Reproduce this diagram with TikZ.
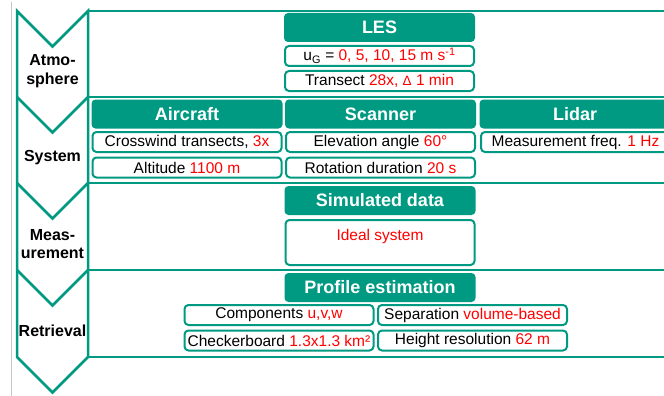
\documentclass[tikz,border=0pt]{standalone}
\usepackage{fontspec}
\setmainfont{Liberation Sans}
\usepackage{tikz}
\definecolor{tealgreen}{RGB}{0,154,130}
\newcommand\rd[1]{\textcolor{red}{#1}}
\newcommand\smalldelta{{\fontsize{13.5}{13.5}\selectfont Δ}}
\begin{document}
\begin{tikzpicture}[x=1pt,y=-1pt,
  strip/.style={draw=tealgreen,line width=2.5pt,line join=miter},
  hdr/.style={fill=tealgreen,rounded corners=4pt,text=white,inner sep=0pt,
    font=\fontsize{18}{20}\selectfont\bfseries,minimum width=191pt,minimum height=29pt},
  itm/.style={draw=tealgreen,line width=2pt,rounded corners=4pt,fill=white,inner sep=0pt,
    font=\fontsize{15.5}{18}\selectfont,minimum width=189pt,minimum height=20pt},
  phase/.style={align=center,inner sep=0pt,font=\fontsize{16}{18.5}\selectfont\bfseries}]
\clip (0,0) rectangle (664,396);
\fill [white] (0,0) rectangle (664,396);
\draw [black!22,line width=1pt] (11,2) -- (11,396);
% chevron strip
\draw [strip] (17,11) -- (52.5,46.5) -- (88,11) -- (88,357) -- (52.5,392.5) -- (17,357) -- cycle;
\foreach \y in {97,183,270}
  \draw [strip] (17,\y) -- (52.5,\y+35.5) -- (88,\y);
\foreach \y in {11,97,183,270,357}
  \draw [strip] (88,\y) -- (670,\y);
\node [phase] (atm) at (52.5,71) {Atmo-\\sphere};
\node [phase] (sys) at (52.5,158) {System};
\node [phase] (meas) at (52.5,244) {Meas-\\urement};
\node [phase] (ret) at (52.5,331) {Retrieval};
% atmosphere
\node [hdr] (les) at (379.5,27.5) {LES};
\node [itm] (ug) at (379.5,56) {u\textsubscript{G} = \rd{0, 5, 10, 15 m s\textsuperscript{-1}}};
\node [itm] (trans) at (379.5,81) {Transect \rd{28x, \smalldelta\ 1 min}};
% system
\node [hdr] (air) at (187,114) {Aircraft};
\node [hdr] (scan) at (380.5,114) {Scanner};
\node [hdr] (lid) at (575,114) {Lidar};
\node [itm] (cross) at (187,142) {Crosswind transects, \rd{3x}};
\node [itm] (alt) at (187,167.5) {Altitude \rd{1100 m}};
\node [itm] (elev) at (380.5,142) {Elevation angle \rd{60°}};
\node [itm] (rot) at (380.5,167.5) {Rotation duration \rd{20 s}};
\node [itm] (freq) at (575.5,142) {Measurement freq. \rd{1 Hz}};
% measurement
\node [hdr] (sim) at (380,200.5) {Simulated data};
\node [itm,minimum height=45pt,text height=19pt,text depth=24pt] (ideal) at (380,242.5) {\rd{Ideal system}};
% retrieval
\node [hdr] (prof) at (380,287.5) {Profile estimation};
\node [itm] (comp) at (279,315) {Components \rd{u,v,w}};
\node [itm] (sep) at (472.5,315) {Separation \rd{volume-based}};
\node [itm] (check) at (279,340.5) {Checkerboard \rd{1.3x1.3 km²}};
\node [itm] (height) at (472.5,340.5) {Height resolution \rd{62 m}};
\end{tikzpicture}
\end{document}
